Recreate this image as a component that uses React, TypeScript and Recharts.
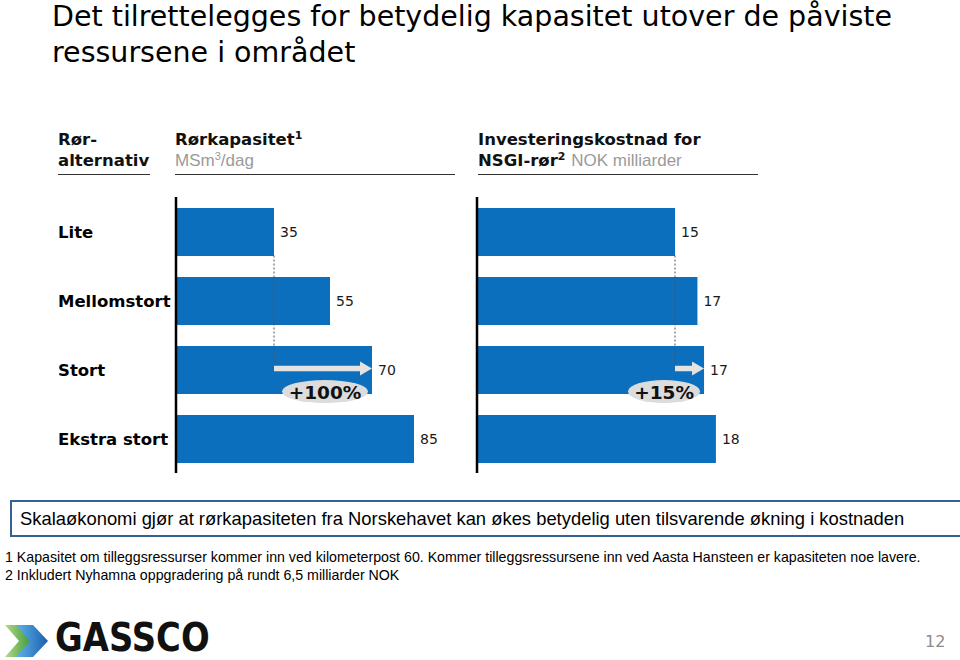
import { Bar, BarChart, LabelList, ReferenceDot, ReferenceLine, XAxis, YAxis } from "recharts"

const alternatives = ["Lite", "Mellomstort", "Stort", "Ekstra stort"]
const capacity = [35, 55, 70, 85]
const cost = [15, 16.7, 17.2, 18.1]

const capacityStep = { from: 35, to: 70, startRow: "Lite", row: "Stort", label: "+100%" }
const costStep = { from: 15, to: 17.2, startRow: "Lite", row: "Stort", label: "+15%" }

const footnotes = [
  "1 Kapasitet om tilleggsressurser kommer inn ved kilometerpost 60. Kommer tilleggsressursene inn ved Aasta Hansteen er kapasiteten noe lavere.",
  "2 Inkludert Nyhamna oppgradering på rundt 6,5 milliarder NOK",
]

const capacityData = alternatives.map((name, i) => ({ name, value: capacity[i] }))
const costData = alternatives.map((name, i) => ({ name, value: cost[i] }))

const BLUE = "#0b6fbd"
const BAR = 48
const NUM_FONT = "'DejaVu Sans', Verdana, sans-serif"
const NARROW = "'Liberation Sans Narrow', 'Arial Narrow', 'Liberation Sans', Arial, sans-serif"

// dashed guide from the bottom of the first bar down to the arrow
const guide = (props: any) => {
  const { x1, y1, y2 } = props
  return <line x1={x1} y1={y1 + BAR / 2} x2={x1} y2={y2} stroke="#555" strokeWidth={1} strokeDasharray="2 2" />
}

const arrow = (props: any) => {
  const { x1, y1, x2 } = props
  return (
    <g>
      <line x1={x1} y1={y1 - 1} x2={x2 - 10} y2={y1 - 1} stroke="#e3e3e3" strokeWidth={5.5} />
      <polygon points={`${x2 - 12},${y1 - 8} ${x2},${y1 - 1} ${x2 - 12},${y1 + 6}`} fill="#e3e3e3" />
    </g>
  )
}

const bubble = (label: string) => (props: any) => {
  const { cx, cy } = props
  const rx = label.length * 7 + 8
  const ex = cx - rx - 4
  return (
    <g>
      <ellipse cx={ex} cy={cy + 22} rx={rx} ry={11.5} fill="#dcdcdc" />
      <text x={ex} y={cy + 29} textAnchor="middle" fontFamily={NUM_FONT} fontWeight="bold" fontSize={18.5} fill="#111">
        {label}
      </text>
    </g>
  )
}

const rowTick = (props: any) => (
  <text x={58} y={props.y} dy={6} fontFamily={NUM_FONT} fontWeight="bold" fontSize={16.5} fill="#000">
    {props.payload.value}
  </text>
)

const header: React.CSSProperties = {
  position: "absolute",
  fontFamily: NUM_FONT,
  fontWeight: "bold",
  fontSize: 16.5,
  lineHeight: "21px",
  color: "#111",
  whiteSpace: "nowrap",
}
const sup: React.CSSProperties = { fontSize: 11, lineHeight: 0, verticalAlign: "6px" }
const unit: React.CSSProperties = { fontFamily: NARROW, fontWeight: "normal", color: "#9a9a9a", fontSize: 17 }
const rule = (left: number, width: number): React.CSSProperties => ({
  position: "absolute",
  left,
  top: 174,
  width,
  borderTop: "1.5px solid #333",
})

export default function App() {
  return (
    <div style={{ position: "fixed", left: 0, top: 0, width: 960, height: 660, background: "#fff", overflow: "hidden" }}>
      <div
        style={{
          position: "absolute",
          left: 52,
          top: -1,
          fontFamily: NUM_FONT,
          fontSize: 28.5,
          lineHeight: "36px",
          color: "#000",
          whiteSpace: "nowrap",
        }}
      >
        Det tilrettelegges for betydelig kapasitet utover de påviste
        <br />
        ressursene i området
      </div>

      <div style={{ ...header, left: 58, top: 129 }}>
        Rør-
        <br />
        alternativ
      </div>
      <div style={{ ...header, left: 175, top: 129 }}>
        Rørkapasitet<span style={sup}>1</span>
        <br />
        <span style={unit}>
          MSm<span style={sup}>3</span>/dag
        </span>
      </div>
      <div style={{ ...header, left: 478, top: 129 }}>
        Investeringskostnad for
        <br />
        NSGI-rør<span style={sup}>2</span> <span style={unit}>NOK milliarder</span>
      </div>
      <div style={rule(58, 92)} />
      <div style={rule(175, 280)} />
      <div style={rule(478, 280)} />

      <div style={{ position: "absolute", left: 0, top: 0 }}>
        <BarChart width={480} height={480} data={capacityData} layout="vertical" margin={{ top: 197, right: 24, bottom: 7, left: 0 }}>
          <XAxis type="number" domain={[0, 100]} hide />
          <YAxis type="category" dataKey="name" width={176} tick={rowTick} tickLine={false} axisLine={{ stroke: "#000", strokeWidth: 2.5 }} />
          <Bar dataKey="value" fill={BLUE} barSize={BAR} isAnimationActive={false}>
            <LabelList dataKey="value" position="right" offset={6} fill="#1a1a1a" fontSize={14} fontFamily={NUM_FONT} />
          </Bar>
          <ReferenceLine
            segment={[
              { x: capacityStep.from, y: capacityStep.startRow },
              { x: capacityStep.from, y: capacityStep.row },
            ]}
            shape={guide}
          />
          <ReferenceLine
            segment={[
              { x: capacityStep.from, y: capacityStep.row },
              { x: capacityStep.to, y: capacityStep.row },
            ]}
            shape={arrow}
          />
          <ReferenceDot x={capacityStep.to} y={capacityStep.row} shape={bubble(capacityStep.label)} />
        </BarChart>
      </div>

      <div style={{ position: "absolute", left: 460, top: 0 }}>
        <BarChart width={300} height={480} data={costData} layout="vertical" margin={{ top: 197, right: 19, bottom: 7, left: 0 }}>
          <XAxis type="number" domain={[0, 20]} hide />
          <YAxis type="category" dataKey="name" width={17} tick={false} tickLine={false} axisLine={{ stroke: "#000", strokeWidth: 2.5 }} />
          <Bar dataKey="value" fill={BLUE} barSize={BAR} isAnimationActive={false}>
            <LabelList
              dataKey="value"
              position="right"
              offset={6}
              fill="#1a1a1a"
              fontSize={14}
              fontFamily={NUM_FONT}
              formatter={(v: any) => Math.round(Number(v))}
            />
          </Bar>
          <ReferenceLine
            segment={[
              { x: costStep.from, y: costStep.startRow },
              { x: costStep.from, y: costStep.row },
            ]}
            shape={guide}
          />
          <ReferenceLine
            segment={[
              { x: costStep.from, y: costStep.row },
              { x: costStep.to, y: costStep.row },
            ]}
            shape={arrow}
          />
          <ReferenceDot x={costStep.to} y={costStep.row} shape={bubble(costStep.label)} />
        </BarChart>
      </div>

      <div
        style={{
          position: "absolute",
          left: 10,
          top: 500,
          width: 944,
          height: 33,
          border: "2px solid #35628f",
          fontFamily: NARROW,
          fontSize: 18.4,
          lineHeight: "33px",
          paddingLeft: 8,
          boxSizing: "content-box",
          whiteSpace: "nowrap",
        }}
      >
        Skalaøkonomi gjør at rørkapasiteten fra Norskehavet kan økes betydelig uten tilsvarende økning i kostnaden
      </div>

      <div style={{ position: "absolute", left: 5, top: 548, fontFamily: NARROW, fontSize: 14.2, lineHeight: "18px", whiteSpace: "nowrap" }}>
        {footnotes.map((f) => (
          <div key={f}>{f}</div>
        ))}
      </div>

      <svg style={{ position: "absolute", left: 0, top: 612 }} width={260} height={48}>
        <defs>
          <linearGradient id="gr" x1="0" x2="1" y1="0" y2="0">
            <stop offset="0" stopColor="#b4d98a" />
            <stop offset="1" stopColor="#3f9a3a" />
          </linearGradient>
          <linearGradient id="bl" x1="0" x2="1" y1="0" y2="0">
            <stop offset="0" stopColor="#5fb4e8" />
            <stop offset="1" stopColor="#1a5fae" />
          </linearGradient>
        </defs>
        <polygon points="5,13 17,13 31,29 17,45 5,45 19,29" fill="url(#gr)" />
        <polygon points="16,13 33,13 48,29 33,45 16,45 30,29" fill="url(#bl)" />
        <text transform="translate(55 39) scale(0.89 1.03)" fontFamily={NUM_FONT} fontWeight="bold" fontSize={38} fill="#111">
          GASSCO
        </text>
      </svg>

      <div style={{ position: "absolute", left: 925, top: 632, fontFamily: NUM_FONT, fontSize: 16, color: "#8c8c8c" }}>12</div>
    </div>
  )
}
